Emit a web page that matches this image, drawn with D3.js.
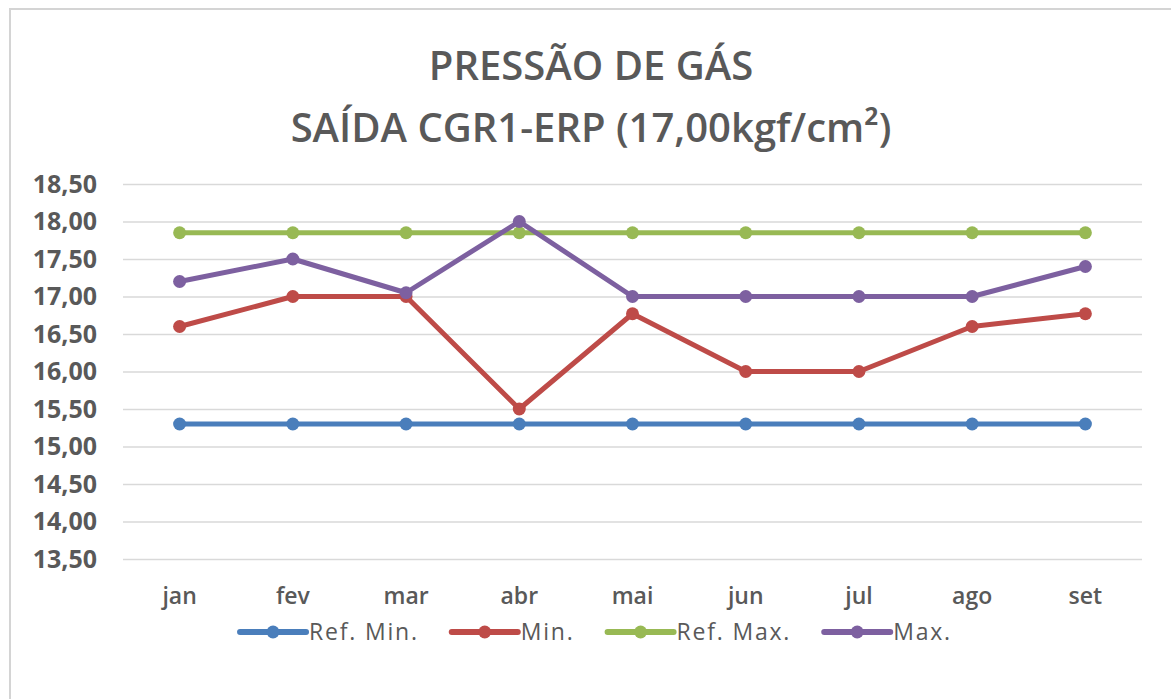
<!DOCTYPE html>
<html>
<head>
<meta charset="utf-8">
<script src="https://cdn.jsdelivr.net/npm/d3@7"></script>
<style>
  html, body { margin: 0; padding: 0; background: #ffffff; }
  svg { display: block; }
  text { font-family: "Open Sans", "Noto Sans", sans-serif; fill: #595959; }
</style>
</head>
<body>
<svg class="chart" width="1171" height="699"></svg>
<script>
(function () {
  "use strict";

  const months = ["jan", "fev", "mar", "abr", "mai", "jun", "jul", "ago", "set"];
  const refMin = [15.30, 15.30, 15.30, 15.30, 15.30, 15.30, 15.30, 15.30, 15.30];
  const minValues = [16.60, 17.00, 17.00, 15.50, 16.77, 16.00, 16.00, 16.60, 16.77];
  const refMax = [17.85, 17.85, 17.85, 17.85, 17.85, 17.85, 17.85, 17.85, 17.85];
  const maxValues = [17.20, 17.50, 17.05, 18.00, 17.00, 17.00, 17.00, 17.00, 17.40];
  const yTicks = [13.5, 14, 14.5, 15, 15.5, 16, 16.5, 17, 17.5, 18, 18.5];
  const titleLines = ["PRESSÃO DE GÁS", "SAÍDA CGR1-ERP (17,00kgf/cm²)"];

  const series = [
    { name: "Ref. Min.", color: "#4a7ebb", values: refMin },
    { name: "Min.", color: "#be4b48", values: minValues },
    { name: "Ref. Max.", color: "#98b954", values: refMax },
    { name: "Max.", color: "#7d60a0", values: maxValues }
  ];

  const svg = d3.select(".chart");
  const plot = { left: 123, right: 1142, top: 184, bottom: 559 };

  // chart frame
  svg.append("rect")
    .attr("x", 10).attr("y", 9)
    .attr("width", 1200).attr("height", 720)
    .attr("fill", "#ffffff")
    .attr("stroke", "#d4d4d4")
    .attr("stroke-width", 2);

  const x = d3.scaleBand().domain(months).range([plot.left, plot.right]);
  const y = d3.scaleLinear().domain([13.5, 18.5]).range([plot.bottom, plot.top]);
  const cx = m => x(m) + x.bandwidth() / 2;

  // title
  svg.append("g").selectAll("text")
    .data(titleLines)
    .join("text")
    .attr("x", 591)
    .attr("y", (d, i) => 80 + i * 62)
    .attr("text-anchor", "middle")
    .attr("font-size", 40)
    .attr("font-weight", 600)
    .text(d => d);

  // gridlines and y labels
  const yAxis = svg.append("g")
    .attr("transform", `translate(${plot.left},0)`)
    .call(d3.axisLeft(y)
      .tickValues(yTicks)
      .tickSize(-(plot.right - plot.left))
      .tickPadding(26)
      .tickFormat(d => d3.format(".2f")(d).replace(".", ",")));
  yAxis.select(".domain").remove();
  yAxis.selectAll(".tick line").attr("stroke", "#d9d9d9").attr("stroke-width", 1.5);
  yAxis.selectAll(".tick text")
    .attr("font-size", 25)
    .attr("font-weight", 700)
    .attr("font-family", "\"Open Sans\", sans-serif")
    .attr("fill", "#595959");

  // x labels
  const xAxis = svg.append("g")
    .attr("transform", `translate(0,${plot.bottom})`)
    .call(d3.axisBottom(x).tickSize(0).tickPadding(29));
  xAxis.select(".domain").remove();
  xAxis.selectAll(".tick text")
    .attr("font-size", 23)
    .attr("font-weight", 600)
    .attr("font-family", "\"Open Sans\", sans-serif")
    .attr("fill", "#595959");

  // lines and markers
  const line = d3.line()
    .x((d, i) => cx(months[i]))
    .y(d => y(d));

  const groups = svg.append("g").selectAll("g")
    .data(series)
    .join("g");

  groups.append("path")
    .attr("d", d => line(d.values))
    .attr("fill", "none")
    .attr("stroke", d => d.color)
    .attr("stroke-width", 5)
    .attr("stroke-linejoin", "round")
    .attr("stroke-linecap", "round");

  groups.selectAll("circle")
    .data(d => d.values.map(v => ({ v, color: d.color })))
    .join("circle")
    .attr("cx", (d, i) => cx(months[i]))
    .attr("cy", d => y(d.v))
    .attr("r", 6.5)
    .attr("fill", d => d.color);

  // legend
  const legend = svg.append("g").attr("transform", "translate(0,632)");
  const items = legend.selectAll("g")
    .data(series)
    .join("g");

  items.append("line")
    .attr("x1", 2).attr("x2", 68)
    .attr("stroke", d => d.color)
    .attr("stroke-width", 6)
    .attr("stroke-linecap", "round");
  items.append("circle")
    .attr("cx", 35)
    .attr("r", 6.5)
    .attr("fill", d => d.color);
  items.append("text")
    .attr("x", 71)
    .attr("dy", "0.35em")
    .attr("font-size", 23)
    .attr("letter-spacing", 1.8)
    .text(d => d.name);

  let offset = 0;
  const positions = [];
  items.each(function () {
    positions.push(offset);
    offset += 71 + d3.select(this).select("text").node().getComputedTextLength() + 31;
  });
  const start = 595 - (offset - 31) / 2;
  items.attr("transform", (d, i) => `translate(${start + positions[i]},0)`);
})();
</script>
</body>
</html>
